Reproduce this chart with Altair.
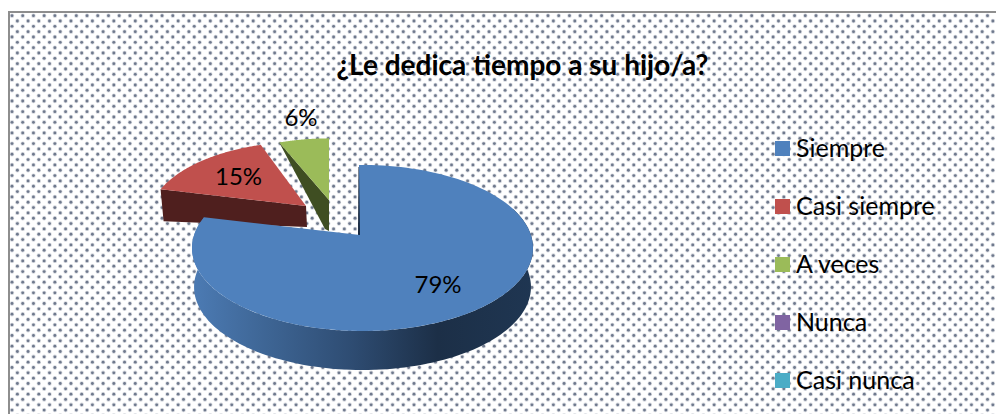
import math
import altair as alt
import pandas as pd

# ---- data
categories = ["Siempre", "Casi siempre", "A veces", "Nunca", "Casi nunca"]
shares = [79, 15, 6, 0, 0]
labels = ["79%", "15%", "6%"]
colors = ["#4F81BD", "#C0504D", "#9BBB59", "#8064A2", "#4BACC6"]
title_text = "¿Le dedica tiempo a su hijo/a?"

# ---- layout (page pixels)
W, H = 988, 406
FONT = "Lato"
ROTATION = -1.38
K, P = 81.0, 0.1566      # depth radius, perspective
# slice: centre x, centre y, x radius, depth scale, turn
SLICE = {
    "Siempre": (362.5, 235.0, 168.4, 1.0, 0.0),
    "Casi siempre": (306.0, 206.0, 168.4, 0.92, 0.38),
    "A veces": (329.0, 200.0, 168.4, 0.88, 1.38),
}
LABEL_POS = {"79%": (438, 286), "15%": (238.5, 178), "6%": (301, 119)}

x_scale = alt.Scale(domain=[8, 8 + W], range=[0, W], nice=False, zero=False)
y_scale = alt.Scale(domain=[8, 8 + H], range=[0, H], nice=False, zero=False)
X = lambda f: alt.X(f, type="quantitative", scale=x_scale, axis=None)
Y = lambda f: alt.Y(f, type="quantitative", scale=y_scale, axis=None)
color_scale = alt.Scale(domain=categories, range=colors)


def project(name, deg):
    ax, ay, a, s, turn = SLICE[name]
    t = math.radians(deg + turn)
    u, v = math.sin(t), math.cos(t)
    d = 1 + P * v
    return ax + s * a * u / d, ay - s * K * v / d


def angles():
    out, a = {}, ROTATION
    for c, v in zip(categories, shares):
        out[c] = (a, a + v * 3.6)
        a += v * 3.6
    return out


ANG = angles()


def arc(name, a0, a1, n=120):
    return [project(name, a0 + (a1 - a0) * i / n) for i in range(n + 1)]


def frame(points, cat):
    return pd.DataFrame(
        [{"x": x, "y": y, "i": i, "cat": cat} for i, (x, y) in enumerate(points)]
    )


def poly(points, cat=None, fill=None):
    df = frame(points, cat or "")
    kw = dict(x=X("x"), y=Y("y"), order=alt.Order("i:Q"))
    if cat is not None:
        mark = alt.Chart(df).mark_line(filled=True, strokeWidth=0, interpolate="linear-closed")
        kw["color"] = alt.Color(
            "cat:N", scale=color_scale,
            legend=alt.Legend(
                title=None, orient="none", legendX=762, legendY=128,
                symbolType="square", symbolSize=225, symbolStrokeWidth=0,
                symbolStrokeColor="transparent",
                labelFont=FONT, labelFontSize=25, labelColor="#000000",
                labelOffset=1, rowPadding=32, padding=0, zindex=1,
                values=categories,
            ),
        )
    else:
        mark = alt.Chart(df).mark_line(filled=True, fill=fill, strokeWidth=0, interpolate="linear-closed")
    return mark.encode(**kw)


# texture and frame
dots = (
    alt.Chart(alt.sequence(0, 7600, 1, as_="n"))
    .transform_calculate(row="floor(datum.n / 95)", col="datum.n % 95")
    .transform_calculate(
        px="12 + 10.72 * datum.col + (datum.row % 2) * 5.36",
        py="15.7 + 5.33 * datum.row",
    )
    .transform_filter("datum.px < 998 && datum.py < 416")
    .mark_point(filled=True, size=8, color="#34425F", stroke="#34425F", strokeWidth=1.6, strokeOpacity=0.28)
    .encode(x=X("px"), y=Y("py"))
)
frame_df = pd.DataFrame({"x": [9, 9, 1000], "y": [414, 12, 12], "i": [0, 1, 2]})
border = (
    alt.Chart(frame_df)
    .mark_line(color="#8E8E8E", strokeWidth=2)
    .encode(x=X("x"), y=Y("y"), order=alt.Order("i:Q"))
)

# green slice
g0, g1 = ANG["A veces"]
gx, gy = SLICE["A veces"][:2]
g_top = arc("A veces", g0 - 1, g1) + [(gx, gy)]
g_out = project("A veces", g0 - 1)
g_wall = [g_out, (gx, gy), (gx, gy + 31), (gx - 4, gy + 29)]

# red slice
r0, r1 = ANG["Casi siempre"]
rx, ry = SLICE["Casi siempre"][:2]
r_top = arc("Casi siempre", r0, r1 + 3) + [(rx, ry)]
r_out = project("Casi siempre", r0)
r_wall = [r_out, (rx, ry), (rx + 1, ry + 21), (r_out[0] + 3, r_out[1] + 32)]

# blue slice
b0, b1 = ANG["Siempre"]
DEPTH = 39
APEX = (360.0, 235.0)
b_top = arc("Siempre", b0, b1) + [APEX]
wall_top = arc("Siempre", 70, b1)
b_wall = wall_top + [(x + (363 - x) * 0.012, y + DEPTH) for x, y in reversed(wall_top)]
b_edge = [(APEX[0] - 2, APEX[1]), (APEX[0] - 1.5, APEX[1] - 68), (APEX[0] + 0.2, APEX[1] - 68), APEX]

wall_gradient = alt.Gradient(
    gradient="linear", x1=0, y1=0, x2=1, y2=0,
    stops=[
        alt.GradientStop(offset=0.0, color="#4C7BB4"),
        alt.GradientStop(offset=0.2, color="#3F6797"),
        alt.GradientStop(offset=0.47, color="#2E4C72"),
        alt.GradientStop(offset=0.72, color="#1C2F47"),
        alt.GradientStop(offset=1.0, color="#1F3652"),
    ],
)

label_df = pd.DataFrame(
    {"t": labels, "x": [LABEL_POS[t][0] for t in labels], "y": [LABEL_POS[t][1] for t in labels]}
)
texts = (
    alt.Chart(label_df)
    .mark_text(font=FONT, fontSize=24, color="#000000", align="center", baseline="middle")
    .encode(x=X("x"), y=Y("y"), text="t:N")
)

chart = (
    alt.layer(
        dots,
        border,
        poly(g_wall, fill="#3F4E22"),
        poly(g_top, "A veces"),
        poly(r_wall, fill="#4F1F1E"),
        poly(r_top, "Casi siempre"),
        poly(b_wall, fill=wall_gradient),
        poly(b_edge, fill="#16263C"),
        poly(b_top, "Siempre"),
        texts,
    )
    .resolve_scale(color="shared")
    .properties(
        width=W,
        height=H,
        padding=0,
        autosize=alt.AutoSizeParams(type="none"),
        background="#FFFFFF",
        title=alt.TitleParams(
            title_text, font=FONT, fontSize=28, fontWeight="bold", color="#000000",
            anchor="middle", dx=522.5 - (8 + W / 2), dy=95, baseline="alphabetic",
            offset=0, zindex=1,
        ),
    )
    .configure_view(stroke=None)
)

chart.save("out.html", embed_options={"renderer": "svg", "actions": False})
